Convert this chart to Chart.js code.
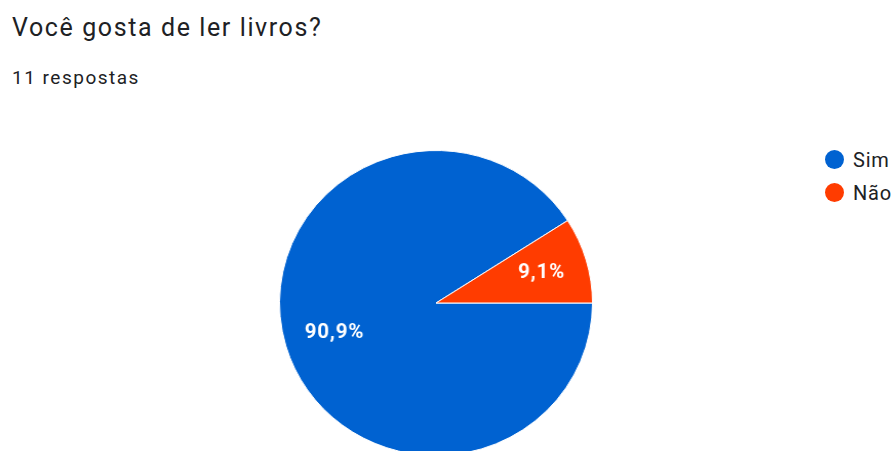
<!DOCTYPE html>
<html>
<head>
<meta charset="utf-8">
<script src="https://cdn.jsdelivr.net/npm/chart.js@4/dist/chart.umd.min.js"></script>
<style>
  html, body { margin: 0; padding: 0; background: #fff; overflow: hidden; }
  body { width: 896px; height: 451px; position: relative; font-family: Roboto, 'Noto Sans', sans-serif; color: #202124; }
  #title { position: absolute; left: 12px; top: 13px; font-size: 25px; line-height: 30px; letter-spacing: 1.6px; white-space: nowrap; }
  #subtitle { position: absolute; left: 12px; top: 66px; font-size: 19px; line-height: 24px; letter-spacing: 1.5px; white-space: nowrap; }
  #wrap { position: absolute; left: 283px; top: 150px; width: 306px; height: 306px; transform: scaleX(1.026); transform-origin: center center; }
  #legend { position: absolute; left: 825px; top: 143px; font-size: 20px; white-space: nowrap; letter-spacing: 0.8px; }
  .item { height: 33px; display: flex; align-items: center; }
  .dot { display: inline-block; width: 19px; height: 19px; border-radius: 50%; margin-right: 9px; flex: none; }
</style>
</head>
<body>
<div id="title">Você gosta de ler livros?</div>
<div id="subtitle">11 respostas</div>
<div id="wrap"><canvas id="pie"></canvas></div>
<div id="legend"></div>
<script>
const labels = ['Sim', 'Não'];
const counts = [10, 1];
const colors = ['#0062d1', '#ff3c00'];

// legenda à direita
const legend = document.getElementById('legend');
labels.forEach((l, i) => {
  const row = document.createElement('div');
  row.className = 'item';
  row.innerHTML = '<span class="dot" style="background:' + colors[i] + '"></span><span>' + l + '</span>';
  legend.appendChild(row);
});

const total = counts.reduce((a, b) => a + b, 0);

// rótulos de porcentagem dentro das fatias
const pctLabels = {
  id: 'pctLabels',
  afterDatasetsDraw(chart) {
    const ctx = chart.ctx;
    const meta = chart.getDatasetMeta(0);
    ctx.save();
    ctx.fillStyle = '#fff';
    ctx.font = 'bold 20px Roboto, sans-serif';
    ctx.letterSpacing = '0.8px';
    ctx.textAlign = 'center';
    ctx.textBaseline = 'middle';
    meta.data.forEach((arc, i) => {
      const p = arc.getProps(['x', 'y', 'startAngle', 'endAngle', 'outerRadius'], true);
      const mid = (p.startAngle + p.endAngle) / 2;
      const r = p.outerRadius * 0.69;
      const txt = (counts[i] / total * 100).toFixed(1).replace('.', ',') + '%';
      ctx.fillText(txt, p.x + Math.cos(mid) * r + 2, p.y + Math.sin(mid) * r);
    });
    ctx.restore();
  }
};

new Chart(document.getElementById('pie'), {
  type: 'pie',
  data: {
    labels: labels,
    datasets: [{
      data: counts,
      backgroundColor: colors,
      borderColor: '#fff',
      borderWidth: 1
    }]
  },
  options: {
    responsive: true,
    maintainAspectRatio: false,
    animation: false,
    rotation: 90,
    layout: { padding: 0 },
    plugins: {
      legend: { display: false },
      tooltip: { enabled: false }
    }
  },
  plugins: [pctLabels]
});
</script>
</body>
</html>
